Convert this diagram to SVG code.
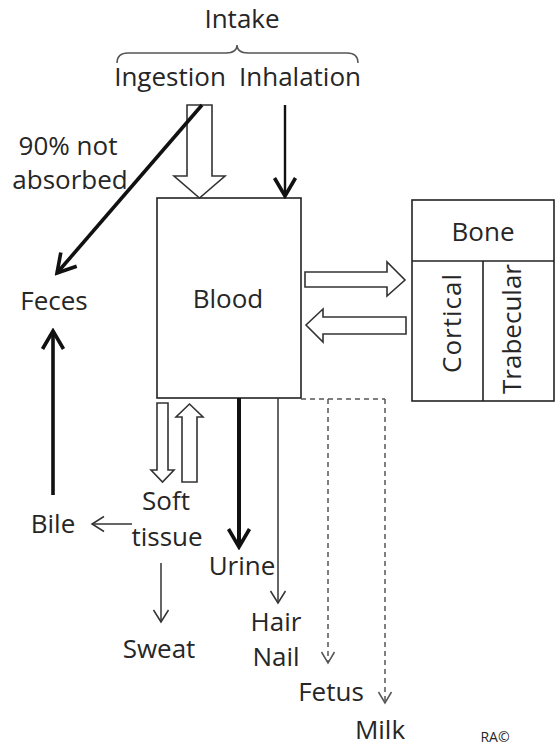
<svg xmlns="http://www.w3.org/2000/svg" width="556" height="748" viewBox="0 0 556 748">
<style>
text{font-family:"Open Sans","Noto Sans","DejaVu Sans",sans-serif;font-size:26px;fill:#262626;text-anchor:middle}
.box{fill:#fff;stroke:#222;stroke-width:1.6}
.hollow{fill:#fff;stroke:#333;stroke-width:1.6;stroke-linejoin:miter}
.thick{fill:none;stroke:#111;stroke-width:3.6}
.thin{fill:none;stroke:#333;stroke-width:1.5}
.dash{fill:none;stroke:#555;stroke-width:1.5;stroke-dasharray:5 4}
</style>
<defs>
<marker id="hThick" viewBox="-2 -13 24 26" refX="19" refY="0" markerWidth="24" markerHeight="26" markerUnits="userSpaceOnUse" orient="auto">
<path d="M1,-10.5 L19,0 L1,10.5" fill="none" stroke="#111" stroke-width="3.6"/>
</marker>
<marker id="hThin" viewBox="-2 -10 16 20" refX="12" refY="0" markerWidth="16" markerHeight="20" markerUnits="userSpaceOnUse" orient="auto">
<path d="M0,-7.5 L12,0 L0,7.5" fill="none" stroke="#333" stroke-width="1.5"/>
</marker>
<marker id="hDash" viewBox="-2 -9 15 18" refX="11" refY="0" markerWidth="15" markerHeight="18" markerUnits="userSpaceOnUse" orient="auto">
<path d="M0,-6.5 L11,0 L0,6.5" fill="none" stroke="#555" stroke-width="1.5"/>
</marker>
</defs>

<g id="intake">
<text x="242" y="28">Intake</text>
<path d="M117,63 Q117,53 128,53 L226,53 Q237,53 237,45 Q237,53 248,53 L347,53 Q358,53 358,63" fill="none" stroke="#555" stroke-width="1.5"/>
</g>
<g id="ingestion"><text x="170" y="86">Ingestion</text></g>
<g id="inhalation"><text x="300" y="86">Inhalation</text></g>
<g id="label-90"><text x="68" y="155">90% not</text><text x="70" y="189">absorbed</text></g>

<g id="blood">
<rect class="box" x="157" y="198" width="144" height="200"/>
<text x="228" y="308">Blood</text>
</g>

<g id="bone">
<rect class="box" x="412" y="200" width="142" height="201"/>
<line x1="412" y1="261" x2="554" y2="261" stroke="#222" stroke-width="1.6"/>
<line x1="483" y1="261" x2="483" y2="401" stroke="#222" stroke-width="1.6"/>
<text x="483" y="241">Bone</text>
<text transform="translate(461,323) rotate(-90)" x="0" y="0" style="letter-spacing:1px">Cortical</text>
<text transform="translate(521,329) rotate(-90)" x="0" y="0">Trabecular</text>
</g>

<g id="feces"><text x="54" y="310">Feces</text></g>
<g id="bile"><text x="53" y="533">Bile</text></g>
<g id="soft-tissue"><text x="166" y="510">Soft</text><text x="167" y="546">tissue</text></g>
<g id="sweat"><text x="159" y="658">Sweat</text></g>
<g id="urine"><text x="242" y="575">Urine</text></g>
<g id="hair-nail"><text x="276" y="631">Hair</text><text x="276" y="666">Nail</text></g>
<g id="fetus"><text x="331" y="701">Fetus</text></g>
<g id="milk"><text x="380" y="739">Milk</text></g>
<g id="credit"><text x="495" y="742" style="font-size:14px">RA©</text></g>

<g id="connectors">
<path class="hollow" d="M187,105 L212,105 L212,176 L225,176 L199.5,198 L174,176 L187,176 Z"/>
<line class="thick" x1="285" y1="105" x2="285" y2="196" marker-end="url(#hThick)" style="stroke-width:2.4"/>
<line class="thick" x1="202" y1="105" x2="57" y2="273" marker-end="url(#hThick)"/>
<line class="thick" x1="53" y1="495" x2="53" y2="331" marker-end="url(#hThick)"/>
<path class="hollow" d="M305,272 L387,272 L387,262 L405,280 L387,296 L387,287 L305,287 Z"/>
<path class="hollow" d="M406,317 L323,317 L323,309 L306,325 L323,342 L323,334 L406,334 Z"/>
<path class="hollow" d="M157,403 L168,403 L168,470 L174,470 L162.5,482 L151,470 L157,470 Z"/>
<path class="hollow" d="M182,482 L197,482 L197,417 L203,417 L189.5,404 L176,417 L182,417 Z"/>
<line class="thin" x1="132" y1="524" x2="92" y2="524" marker-end="url(#hThin)"/>
<line class="thin" x1="161" y1="563" x2="161" y2="622" marker-end="url(#hThin)"/>
<line class="thick" x1="239" y1="398" x2="239" y2="547" marker-end="url(#hThick)" style="stroke-width:4"/>
<line class="thin" x1="278" y1="398" x2="278" y2="603" marker-end="url(#hThin)"/>
<path class="dash" d="M301,399 L385,399"/>
<line class="dash" x1="328" y1="399" x2="328" y2="663" marker-end="url(#hDash)"/>
<line class="dash" x1="385" y1="399" x2="385" y2="703" marker-end="url(#hDash)"/>
</g>
</svg>
